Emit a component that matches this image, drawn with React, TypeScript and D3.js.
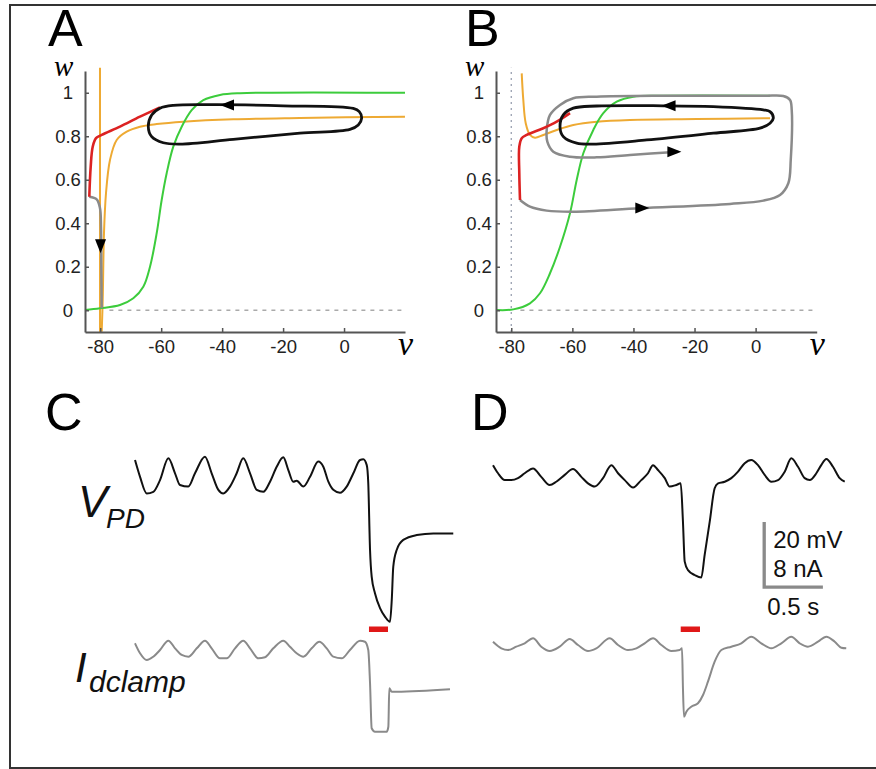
import React, { useEffect, useRef } from 'react';
import * as d3 from 'd3';

type P = [number, number];

// phase plane axes
const vTicks = [-80, -60, -40, -20, 0];
const wTicks = [0, 0.2, 0.4, 0.6, 0.8, 1];

// panel A (v in mV, w)
const orangeVertA: P[] = [[-80.08, -0.1], [-80.08, 1.115]];
const orangeA: P[] = [
  [-79.52, -0.099], [-79.19, 0.047], [-78.77, 0.354], [-78.11, 0.538], [-76.8, 0.691],
  [-74.6, 0.783], [-71.32, 0.821], [-66.96, 0.844], [-61.48, 0.856], [-52.75, 0.867],
  [-36.35, 0.878], [-14.46, 0.884], [19.99, 0.89],
];
const greenA: P[] = [
  [-85, 0.001], [-80.08, 0.009], [-73.52, 0.024], [-69.15, 0.055], [-65.87, 0.108],
  [-63.67, 0.2], [-61.48, 0.354], [-59.84, 0.507], [-58.2, 0.63], [-56.03, 0.752],
  [-53.27, 0.844], [-50.0, 0.92], [-46.19, 0.966], [-40.71, 0.99], [-34.15, 0.998], [20, 1.0],
];
const loopA: P[] = [
  [3.03, 0.928], [-19.94, 0.94], [-41.79, 0.945], [-56.03, 0.942], [-60.39, 0.929],
  [-63.12, 0.898], [-64.23, 0.844], [-63.12, 0.798], [-59.31, 0.77], [-53.83, 0.764],
  [-36.35, 0.786], [-14.46, 0.814], [1.94, 0.832], [4.67, 0.852], [5.78, 0.883], [5.0, 0.913],
];
const redA: P[] = [
  [-83.59, 0.522], [-83.13, 0.66], [-82.47, 0.752], [-81.39, 0.791], [-79.52, 0.806],
  [-73.52, 0.844], [-66.96, 0.89], [-60.39, 0.933],
];
const grayA: P[] = [
  [-83.59, 0.522], [-81.16, 0.51], [-80.08, 0.469], [-79.75, 0.384], [-79.65, 0.2], [-79.52, 0.009],
];
const arrowsA = [
  { v: -40.7, w: 0.944, angle: 180 },
  { v: -79.9, w: 0.262, angle: 90 },
];

// panel B
const orangeB: P[] = [
  [-76.58, 1.089], [-76.06, 0.967], [-75.27, 0.86], [-73.87, 0.806], [-72.23, 0.793],
  [-69.51, 0.806], [-65.12, 0.829], [-59.69, 0.852], [-52.03, 0.867], [-41.12, 0.875],
  [-19.28, 0.879], [4.72, 0.883],
];
const greenB: P[] = [
  [-84.77, 0.001], [-79.34, 0.004], [-73.87, 0.032], [-70.59, 0.078], [-67.32, 0.17],
  [-64.04, 0.292], [-60.77, 0.446], [-58.58, 0.599], [-56.41, 0.722], [-53.14, 0.829],
  [-49.87, 0.906], [-45.48, 0.959], [-40.04, 0.982], [-30.22, 0.986], [4.72, 0.986],
];
const loopB: P[] = [
  [2.52, 0.921], [-13.85, 0.936], [-30.22, 0.94], [-52.03, 0.939], [-59.69, 0.929],
  [-62.96, 0.898], [-64.04, 0.844], [-62.96, 0.798], [-58.58, 0.768], [-53.14, 0.764],
  [-35.65, 0.783], [-13.85, 0.814], [1.44, 0.837], [4.72, 0.86], [5.8, 0.883], [4.72, 0.913],
];
const redB: P[] = [
  [-77.14, 0.507], [-77.37, 0.63], [-77.37, 0.752], [-76.58, 0.791], [-74.95, 0.806],
  [-69.51, 0.837], [-65.12, 0.867], [-60.77, 0.906],
];
const grayB: P[] = [
  [-77.14, 0.507], [-73.87, 0.476], [-68.4, 0.458], [-59.69, 0.453], [-37.85, 0.469],
  [-8.38, 0.489], [2.52, 0.504], [7.99, 0.53], [10.71, 0.584], [11.5, 0.691], [11.82, 0.921],
  [11.27, 0.967], [9.07, 0.985], [2.52, 0.986], [-30.22, 0.986], [-52.03, 0.982],
  [-59.69, 0.975], [-64.04, 0.944], [-67.32, 0.898], [-68.4, 0.829], [-68.2, 0.775],
  [-66.24, 0.729], [-60.77, 0.706], [-52.03, 0.703], [-41.12, 0.714], [-25.31, 0.729],
];
const arrowsB = [
  { v: -30.8, w: 0.94, angle: 180 },
  { v: -34.8, w: 0.47, angle: 0 },
  { v: -24.3, w: 0.729, angle: 0 },
];

// recordings (t in s, V in mV, I in nA)
const vpdC: P[] = [
  [0, -45.6], [0.043, -50.8], [0.1, -55.9], [0.156, -55.4], [0.213, -51.8], [0.284, -45.1],
  [0.341, -49.7], [0.383, -53.3], [0.454, -53.8], [0.511, -49.7], [0.596, -44.6], [0.653, -49.7],
  [0.71, -54.8], [0.752, -55.9], [0.809, -53.8], [0.866, -49.7], [0.922, -45.1], [0.98, -49.7],
  [1.037, -54.8], [1.093, -55.4], [1.15, -52.3], [1.207, -47.7], [1.263, -44.8], [1.306, -48.7],
  [1.348, -52.3], [1.377, -52.0], [1.434, -53.8], [1.491, -50.8], [1.561, -46.1], [1.604, -47.7],
  [1.647, -52.3], [1.689, -54.8], [1.746, -55.7], [1.803, -53.8], [1.86, -49.7], [1.917, -45.6],
  [1.945, -45.4], [1.974, -47.2], [1.987, -52.8], [2.002, -73.3], [2.016, -81.5], [2.044, -86.6],
  [2.087, -91.2], [2.129, -93.8], [2.172, -95.4], [2.187, -88.7], [2.2, -78.4], [2.229, -73.3],
  [2.285, -70.2], [2.4, -68.7], [2.541, -68.2], [2.711, -68.2],
];
const iclampC: P[] = [
  [0, -0.28], [0.043, -1.51], [0.1, -2.34], [0.156, -1.93], [0.213, -1.11], [0.284, 0.04],
  [0.341, -0.9], [0.398, -1.72], [0.454, -1.93], [0.526, -0.9], [0.596, 0.04], [0.653, -0.9],
  [0.724, -2.13], [0.781, -2.13], [0.852, -0.9], [0.922, 0.04], [0.98, -0.9], [1.05, -2.13],
  [1.107, -2.01], [1.178, -0.9], [1.263, 0.04], [1.32, -0.7], [1.377, -1.51], [1.434, -1.93],
  [1.505, -0.9], [1.57, -0.09], [1.633, -0.9], [1.689, -1.93], [1.761, -2.13], [1.831, -1.11],
  [1.917, 0.04], [1.959, -0.09], [1.987, -1.11], [2.002, -5.21], [2.016, -10.74], [2.044, -11.16],
  [2.144, -11.16], [2.158, -10.55], [2.166, -5.82], [2.187, -6.24], [2.229, -6.24], [2.683, -5.94],
];
const vpdD: P[] = [
  [0, -47.2], [0.043, -49.7], [0.1, -51.8], [0.156, -51.8], [0.213, -51.2], [0.27, -49.7],
  [0.341, -48.2], [0.411, -50.8], [0.483, -53.3], [0.539, -52.3], [0.611, -50.2], [0.681, -48.4],
  [0.752, -50.8], [0.809, -52.8], [0.866, -53.8], [0.937, -51.2], [1.008, -47.2], [1.065, -49.7],
  [1.122, -51.8], [1.193, -54.1], [1.263, -51.8], [1.32, -49.7], [1.363, -47.2], [1.405, -48.7],
  [1.463, -51.2], [1.505, -53.8], [1.561, -53.3], [1.599, -52.8], [1.618, -64.6], [1.633, -76.9],
  [1.661, -79.5], [1.718, -81.0], [1.774, -81.8], [1.803, -74.8], [1.846, -64.6], [1.888, -54.3],
  [1.917, -52.8], [1.974, -52.3], [2.03, -51.2], [2.087, -49.2], [2.144, -46.6], [2.2, -45.6],
  [2.257, -47.2], [2.314, -50.2], [2.371, -52.3], [2.428, -51.8], [2.485, -49.2], [2.541, -45.1],
  [2.598, -47.7], [2.655, -51.2], [2.698, -51.8], [2.754, -49.7], [2.796, -47.2], [2.839, -45.3],
  [2.896, -47.7], [2.953, -51.2], [2.996, -52.3],
];
const iclampD: P[] = [
  [0, -0.09], [0.071, -0.9], [0.128, -1.11], [0.198, -0.7], [0.27, -0.28], [0.341, 0.33],
  [0.411, -0.7], [0.483, -1.23], [0.568, -0.7], [0.653, 0.25], [0.724, -0.49], [0.809, -1.23],
  [0.88, -0.9], [0.994, 0.33], [1.065, -0.49], [1.15, -1.11], [1.221, -0.9], [1.292, -0.28],
  [1.363, 0.33], [1.434, -0.49], [1.519, -1.23], [1.59, -1.11], [1.61, -0.9], [1.618, -5.82],
  [1.627, -9.32], [1.647, -8.7], [1.689, -8.09], [1.746, -7.67], [1.789, -6.65], [1.831, -5.01],
  [1.888, -2.55], [1.945, -1.11], [2.03, -0.7], [2.115, -0.28], [2.2, 0.53], [2.285, -0.28],
  [2.371, -0.9], [2.456, -0.28], [2.541, 0.53], [2.612, -0.28], [2.683, -0.7], [2.768, -0.09],
  [2.839, 0.53], [2.911, -0.09], [2.967, -0.82], [3.009, -0.9],
];
const stimC: P = [1.993, 2.155];
const stimD: P = [1.599, 1.763];
const scaleBar = { t0: 2.31, v0: -84.7, dt: 0.5, dv: 20 };

const ORANGE = '#eeaa33';
const GREEN = '#3ccc3c';
const RED = '#dc2222';
const GRAY = '#8a8a8a';
const SANS = '"Liberation Sans", Arial, sans-serif';
const SERIF = '"Liberation Serif", "Times New Roman", serif';

type Sel = d3.Selection<SVGGElement, unknown, null, undefined>;

function drawPhase(g: Sel, left: number, right: number, opts: {
  orange: P[]; orangeVert?: P[]; green: P[]; loop: P[]; red: P[]; gray: P[];
  arrows: { v: number; w: number; angle: number }[]; dottedV?: boolean;
}) {
  const x = d3.scaleLinear().domain([-85, 20]).range([left, right]);
  const y = d3.scaleLinear().domain([-0.1, 1.1]).range([332, 71]);
  const line = d3.line<P>().x((d) => x(d[0])).y((d) => y(d[1])).curve(d3.curveCatmullRom.alpha(0.5));
  const loop = d3.line<P>().x((d) => x(d[0])).y((d) => y(d[1])).curve(d3.curveCatmullRomClosed.alpha(0.5));

  // w = 0 reference
  g.append('line')
    .attr('x1', x(-77)).attr('x2', x(20)).attr('y1', y(0)).attr('y2', y(0))
    .attr('stroke', '#aaa').attr('stroke-width', 1.3).attr('stroke-dasharray', '4,5');
  if (opts.dottedV) {
    g.append('line')
      .attr('x1', x(-80)).attr('x2', x(-80)).attr('y1', y(-0.1)).attr('y2', y(1.115))
      .attr('stroke', '#9aa0b0').attr('stroke-width', 1.3).attr('stroke-dasharray', '2,4');
  }

  const path = (data: P[], color: string, width: number, gen = line) =>
    g.append('path').attr('d', gen(data)).attr('fill', 'none')
      .attr('stroke', color).attr('stroke-width', width).attr('stroke-linejoin', 'round');

  if (opts.orangeVert) path(opts.orangeVert, ORANGE, 2, d3.line<P>().x((d) => x(d[0])).y((d) => y(d[1])));
  path(opts.orange, ORANGE, 2);
  path(opts.green, GREEN, 2);
  path(opts.gray, GRAY, 2.5);
  path(opts.red, RED, 2.6);
  path(opts.loop, '#111', 2.8, loop);

  g.selectAll('path.arrow')
    .data(opts.arrows)
    .enter()
    .append('path')
    .attr('class', 'arrow')
    .attr('d', 'M0,0 L-14,-5.5 L-14,5.5 Z')
    .attr('fill', '#000')
    .attr('transform', (d) => `translate(${x(d.v)},${y(d.w)}) rotate(${d.angle})`);

  const xa = g.append('g').attr('transform', `translate(0,${y(-0.1)})`)
    .call(d3.axisBottom(x).tickValues(vTicks).tickSizeInner(-4).tickSizeOuter(0).tickPadding(8)
      .tickFormat((d) => String(d)));
  const ya = g.append('g').attr('transform', `translate(${left},0)`)
    .call(d3.axisLeft(y).tickValues(wTicks).tickSizeInner(-4).tickSizeOuter(0).tickPadding(17)
      .tickFormat((d) => String(d)));
  [xa, ya].forEach((a) => {
    a.attr('font-family', SANS).attr('font-size', 18.5);
    a.select('.domain').attr('stroke', '#555').attr('stroke-width', 2);
    a.selectAll('.tick line').attr('stroke', '#555').attr('stroke-width', 1.5);
    a.selectAll('.tick text').attr('fill', '#222');
  });
  ya.selectAll('.tick text').attr('text-anchor', 'middle');

  g.append('text').attr('x', left - 31).attr('y', 76).attr('font-family', SERIF)
    .attr('font-style', 'italic').attr('font-size', 29).text('w');
  g.append('text').attr('x', right - 7).attr('y', 355).attr('font-family', SERIF)
    .attr('font-style', 'italic').attr('font-size', 34).text('v');
}

export default function App() {
  const ref = useRef<SVGSVGElement>(null);

  useEffect(() => {
    if (!ref.current) return;
    const svg = d3.select(ref.current);
    svg.selectAll('*').remove();

    // frame
    svg.append('path').attr('d', 'M880,5 H10 V768 H880').attr('fill', 'none')
      .attr('stroke', '#333').attr('stroke-width', 2);

    const letters: [string, number, number][] = [['A', 48, 46], ['B', 465, 46], ['C', 45, 430], ['D', 471, 430]];
    svg.selectAll('text.letter').data(letters).enter().append('text').attr('class', 'letter')
      .attr('x', (d) => d[1]).attr('y', (d) => d[2]).attr('font-family', SANS).attr('font-size', 52)
      .text((d) => d[0]);

    drawPhase(svg.append('g'), 85, 405, {
      orange: orangeA, orangeVert: orangeVertA, green: greenA, loop: loopA, red: redA, gray: grayA, arrows: arrowsA,
    });
    drawPhase(svg.append('g'), 496, 816.7, {
      orange: orangeB, green: greenB, loop: loopB, red: redB, gray: grayB, arrows: arrowsB, dottedV: true,
    });

    // recordings
    const pxPerSec = 117.4;
    const tC = d3.scaleLinear().domain([0, 3]).range([135, 135 + 3 * pxPerSec]);
    const tD = d3.scaleLinear().domain([0, 3]).range([493, 493 + 3 * pxPerSec]);
    const vS = d3.scaleLinear().domain([-95, -45]).range([620.5, 458]);
    const iS = d3.scaleLinear().domain([-8, 0]).range([706, 641]);

    const trace = (data: P[], t: d3.ScaleLinear<number, number>, yS: d3.ScaleLinear<number, number>, color: string) =>
      svg.append('path')
        .attr('d', d3.line<P>().x((d) => t(d[0])).y((d) => yS(d[1])).curve(d3.curveMonotoneX)(data))
        .attr('fill', 'none').attr('stroke', color).attr('stroke-width', 2).attr('stroke-linejoin', 'round');

    trace(vpdC, tC, vS, '#111');
    trace(iclampC, tC, iS, GRAY);
    trace(vpdD, tD, vS, '#111');
    trace(iclampD, tD, iS, GRAY);

    [[stimC, tC], [stimD, tD]].forEach(([s, t]: any) => {
      svg.append('rect').attr('x', t(s[0])).attr('width', t(s[1]) - t(s[0]))
        .attr('y', 626.5).attr('height', 5.5).attr('fill', '#e01818');
    });

    // scale bar
    const sx = tD(scaleBar.t0);
    const sy = vS(scaleBar.v0);
    svg.append('path')
      .attr('d', `M${sx},${vS(scaleBar.v0 + scaleBar.dv)} V${sy} H${tD(scaleBar.t0 + scaleBar.dt)}`)
      .attr('fill', 'none').attr('stroke', GRAY).attr('stroke-width', 3.3);
    const sbText: [string, number, number][] = [['20 mV', sx + 9, 548], ['8 nA', sx + 9, 577], ['0.5 s', sx + 3, 615]];
    svg.selectAll('text.sb').data(sbText).enter().append('text').attr('class', 'sb')
      .attr('x', (d) => d[1]).attr('y', (d) => d[2]).attr('font-family', SANS).attr('font-size', 24)
      .attr('fill', '#111').text((d) => d[0]);

    // trace labels
    const lab = svg.append('g').attr('font-family', SANS).attr('font-style', 'italic').attr('fill', '#111');
    lab.append('text').attr('x', 78).attr('y', 517).attr('font-size', 44).text('V');
    lab.append('text').attr('x', 106).attr('y', 528).attr('font-size', 28).text('PD');
    lab.append('text').attr('x', 75).attr('y', 682).attr('font-size', 42).text('I');
    lab.append('text').attr('x', 89).attr('y', 692).attr('font-size', 30).text('dclamp');
  }, []);

  return (
    <svg
      ref={ref}
      width={876}
      height={769}
      style={{ position: 'absolute', left: 0, top: 0, background: '#fff' }}
    />
  );
}
